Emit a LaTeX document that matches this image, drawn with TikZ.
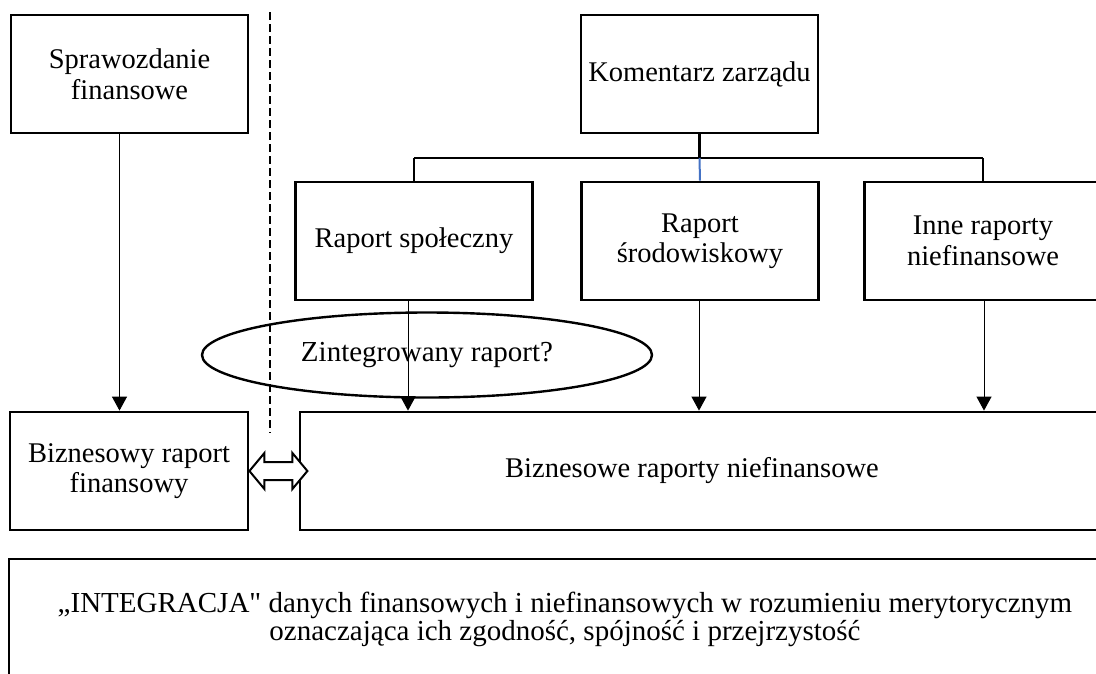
\documentclass[tikz,border=0pt]{standalone}
\usepackage{fontspec}
\setmainfont{Liberation Serif}
% same face without the TeX quote mapping, for a straight double quote
\newfontfamily\rawserif{Liberation Serif}
\usetikzlibrary{arrows.meta,shapes.geometric}
\definecolor{linkblue}{HTML}{4472C4}

\begin{document}
\begin{tikzpicture}[x=1pt,y=-1pt,
  box/.style={draw,line width=2.8pt,minimum width=237pt,minimum height=118pt,
    align=center,inner sep=0pt,font=\fontsize{28.5}{30.5}\selectfont},
  frame/.style={draw,line width=2.8pt,inner sep=0pt},
  label text/.style={align=center,inner sep=0pt},
  link/.style={line width=2pt},
  feed/.style={line width=1pt,-{Triangle[length=14pt,width=15pt]}},
  divider/.style={line width=2pt,dash pattern=on 8pt off 4pt},
  ]
\useasboundingbox (0,0) rectangle (1096,673);

% top level
\node[box] (sf)  at (129.5,74)  {Sprawozdanie\\finansowe};
\node[box] (kz)  at (699.5,74)  {Komentarz zarządu};

% partial reports
\node[box] (rs)  at (414,241)   {Raport społeczny};
\node[box] (rsr) at (700,241)   {Raport\\środowiskowy};
\node[box] (inr) at (983,241)   {Inne raporty\\niefinansowe};

% business reports
\node[box,minimum width=238pt] (brf) at (129,471) {Biznesowy raport\\finansowy};
\node[frame,minimum width=810pt,minimum height=118pt] (brn) at (705,471) {};
\node[label text,font=\fontsize{28.5}{30.5}\selectfont] (brnt) at (692,471) {Biznesowe raporty niefinansowe};

% integration box
\node[frame,minimum width=1101pt,minimum height=141pt] (ig) at (559.5,629.5) {};
\node[label text,font=\fontsize{29}{28}\selectfont] (igt) at (565,619)
  {„INTEGRACJA{\rawserif"} danych finansowych i niefinansowych w rozumieniu merytorycznym\\
   oznaczająca ich zgodność, spójność i przejrzystość};

% divider between financial and non-financial side
\coordinate (dtop) at (270,12);
\coordinate (dbot) at (270,433);
\draw[divider] (dtop) -- (dbot);

% management commentary tree
\coordinate (hub) at (kz.south |- 0,158);
\coordinate (hl) at (rs.north |- hub);
\coordinate (hr) at (inr.north |- hub);
\draw[link,line width=2.6pt] (kz.south) -- (hub);
\draw[link] (hl) -- (hr);
\draw[link] (hl) -- (rs.north);
\draw[link] (hr) -- (inr.north);
\draw[link,linkblue] (hub) -- (rsr.north);

% feeds into business reports
\draw[feed] ([xshift=-10pt]sf.south) -- ([xshift=-10pt]sf.south |- brf.north);
\draw[feed] ([xshift=-6pt]rs.south) -- ([xshift=-6pt]rs.south |- brn.north);
\draw[feed] ([xshift=-1pt]rsr.south) -- ([xshift=-1pt]rsr.south |- brn.north);
\draw[feed] ([xshift=1pt]inr.south) -- ([xshift=1pt]inr.south |- brn.north);

% open question
\node[ellipse,draw,line width=2.4pt,minimum width=450pt,minimum height=85pt,
  inner sep=0pt,font=\fontsize{29}{31}\selectfont] (zr) at (427,355) {Zintegrowany raport?};

% two-way link between financial and non-financial reports
\draw[line width=2pt,line join=miter,fill=white]
  (brf.east) ++(0,0) -- ++(15,-18) -- ++(0,9) -- ++(28,0) -- ++(0,-9)
  -- ++(15,18) -- ++(-15,18) -- ++(0,-9) -- ++(-28,0) -- ++(0,9) -- cycle;
\end{tikzpicture}
\end{document}
